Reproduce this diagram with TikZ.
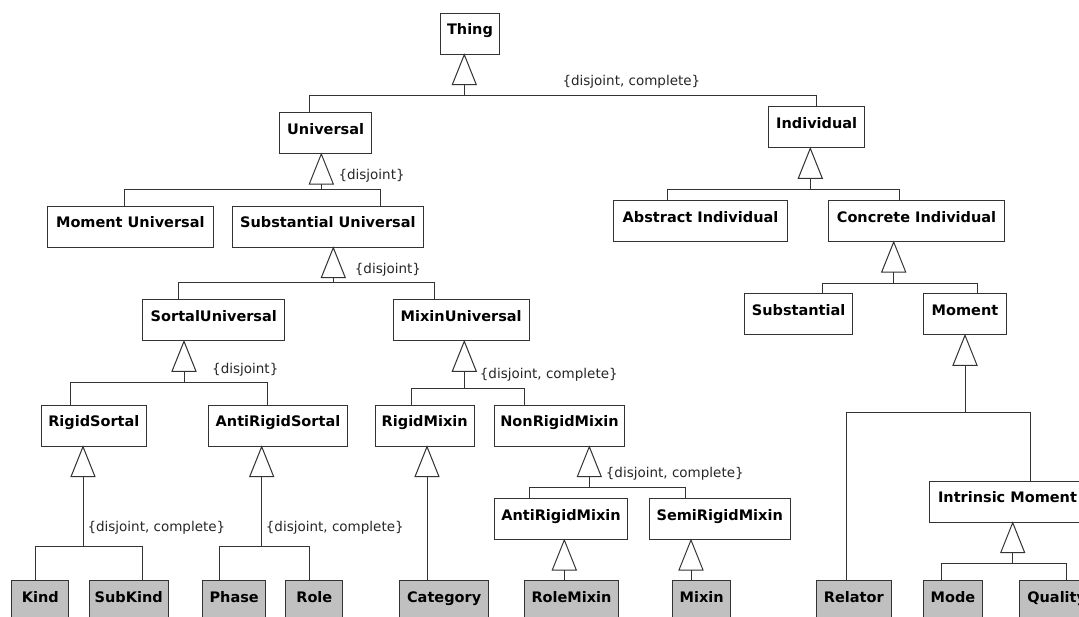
\documentclass[tikz,border=0pt]{standalone}
\usepackage{fontspec}
\setmainfont{DejaVu Sans}
\usepackage{tikz}
\usetikzlibrary{calc,positioning}

\definecolor{lineGray}{HTML}{333333}
\definecolor{leafGray}{HTML}{C0C0C0}

% generalization: parent, tip offset, bus depth, junction name
\newcommand{\drawGen}[4]{
    \coordinate (#4) at ([xshift=#2pt,yshift=-#3pt]#1.south west);
    \draw[gen] ([xshift=#2pt]#1.south west) -- ++(-12,30) -- ++(24,0) -- cycle;
    \draw[link] ([xshift=#2pt,yshift=-30pt]#1.south west) -- (#4);
}

\begin{document}
\begin{tikzpicture}[x=1pt,y=-1pt,
    cls/.style={draw=lineGray,line width=1pt,fill=white,rectangle,anchor=north west,
        inner xsep=0pt,inner ysep=0pt,text height=21.5pt,text depth=19.5pt,
        font=\fontsize{14.5}{17}\selectfont\bfseries,text=black},
    leaf/.style={cls,fill=leafGray},
    link/.style={draw=lineGray,line width=1pt},
    gen/.style={link,fill=white,line join=miter},
    note/.style={anchor=west,inner sep=0pt,font=\fontsize{13.5}{16}\selectfont,text=black!85}]

    \useasboundingbox (0,0) rectangle (1079,616);
    \clip (0,0) rectangle (1079,616);

    % --- Classes ---
    \node[cls,minimum width=58.4pt] (thing) at (440.3,12.7) {Thing};
    \node[cls,minimum width=91.7pt] (universal) at (279.3,112) {Universal};
    \node[cls,minimum width=95.7pt] (individual) at (768.3,106.3) {Individual};
    \node[cls,minimum width=165.7pt] (momentUni) at (47,205.7) {Moment Universal};
    \node[cls,minimum width=190.7pt] (substUni) at (232,205.7) {Substantial Universal};
    \node[cls,minimum width=173.4pt] (abstractInd) at (613.3,200) {Abstract Individual};
    \node[cls,minimum width=176pt] (concreteInd) at (828,200) {Concrete Individual};
    \node[cls,minimum width=142pt] (sortalUni) at (142.3,299.3) {SortalUniversal};
    \node[cls,minimum width=136pt] (mixinUni) at (392.7,299.3) {MixinUniversal};
    \node[cls,minimum width=107.7pt] (substantial) at (744.3,293.3) {Substantial};
    \node[cls,minimum width=82.4pt] (moment) at (923.3,293.3) {Moment};
    \node[cls,minimum width=104.7pt] (rigidSortal) at (41,404.7) {RigidSortal};
    \node[cls,minimum width=139pt] (antiRigidSortal) at (208,404.7) {AntiRigidSortal};
    \node[cls,minimum width=99pt] (rigidMixin) at (374.7,404.7) {RigidMixin};
    \node[cls,minimum width=130pt] (nonRigidMixin) at (494,404.7) {NonRigidMixin};
    \node[cls,minimum width=133pt] (antiRigidMixin) at (494,498) {AntiRigidMixin};
    \node[cls,minimum width=141pt] (semiRigidMixin) at (648.7,498) {SemiRigidMixin};
    \node[cls,minimum width=156pt] (intrinsicMoment) at (929,480.7) {Intrinsic Moment};

    % Leaf classes
    \node[leaf,minimum width=57pt] (kind) at (11.3,580) {Kind};
    \node[leaf,minimum width=79pt] (subKind) at (88.7,580) {SubKind};
    \node[leaf,minimum width=62.7pt] (phase) at (202.3,580) {Phase};
    \node[leaf,minimum width=57pt] (role) at (285.3,580) {Role};
    \node[leaf,minimum width=89.3pt] (category) at (399,580) {Category};
    \node[leaf,minimum width=94.6pt] (roleMixin) at (523.7,580) {RoleMixin};
    \node[leaf,minimum width=57.7pt] (mixin) at (672.3,580) {Mixin};
    \node[leaf,minimum width=74.7pt] (relator) at (816,580) {Relator};
    \node[leaf,minimum width=58.4pt] (mode) at (923.3,580) {Mode};
    \node[leaf,minimum width=75pt] (quality) at (1018.7,580) {Quality};

    % --- Generalizations ---
    \drawGen{thing}{24}{41}{gThing}
    \draw[link] (gThing) -| ([xshift=30pt]universal.north west);
    \draw[link] (gThing) -| ([xshift=48pt]individual.north west);

    \drawGen{universal}{42}{35}{gUniversal}
    \draw[link] (gUniversal) -| ([xshift=77.7pt]momentUni.north west);
    \draw[link] (gUniversal) -| ([xshift=148.9pt]substUni.north west);

    \drawGen{individual}{42}{41}{gIndividual}
    \draw[link] (gIndividual) -| ([xshift=53.7pt]abstractInd.north west);
    \draw[link] (gIndividual) -| ([xshift=71.7pt]concreteInd.north west);

    \drawGen{substUni}{101.3}{35}{gSubstUni}
    \draw[link] (gSubstUni) -| ([xshift=36pt]sortalUni.north west);
    \draw[link] (gSubstUni) -| ([xshift=41.3pt]mixinUni.north west);

    \drawGen{concreteInd}{65.7}{41}{gConcreteInd}
    \draw[link] (gConcreteInd) -| ([xshift=77.7pt]substantial.north west);
    \draw[link] (gConcreteInd) -| ([xshift=53.7pt]moment.north west);

    \drawGen{sortalUni}{41.7}{41}{gSortalUni}
    \draw[link] (gSortalUni) -| ([xshift=29.7pt]rigidSortal.north west);
    \draw[link] (gSortalUni) -| ([xshift=59.3pt]antiRigidSortal.north west);

    \drawGen{mixinUni}{71.6}{46.7}{gMixinUni}
    \draw[link] (gMixinUni) -| ([xshift=36.3pt]rigidMixin.north west);
    \draw[link] (gMixinUni) -| ([xshift=30pt]nonRigidMixin.north west);

    \drawGen{moment}{41.7}{76.7}{gMoment}
    \draw[link] (gMoment) -| ([xshift=30pt]relator.north west);
    \draw[link] (gMoment) -| ([xshift=101.7pt]intrinsicMoment.north west);

    \drawGen{rigidSortal}{42}{99.7}{gRigidSortal}
    \draw[link] (gRigidSortal) -| ([xshift=24pt]kind.north west);
    \draw[link] (gRigidSortal) -| ([xshift=54pt]subKind.north west);

    \drawGen{antiRigidSortal}{53.7}{99.7}{gAntiRigidSortal}
    \draw[link] (gAntiRigidSortal) -| ([xshift=17.4pt]phase.north west);
    \draw[link] (gAntiRigidSortal) -| ([xshift=24pt]role.north west);

    \drawGen{rigidMixin}{52.3}{134.7}{gRigidMixin}
    \draw[link] (gRigidMixin) -| ([xshift=28pt]category.north west);

    \drawGen{nonRigidMixin}{95.3}{41}{gNonRigidMixin}
    \draw[link] (gNonRigidMixin) -| ([xshift=35.7pt]antiRigidMixin.north west);
    \draw[link] (gNonRigidMixin) -| ([xshift=36.3pt]semiRigidMixin.north west);

    \drawGen{antiRigidMixin}{70.3}{41}{gAntiRigidMixin}
    \draw[link] (gAntiRigidMixin) -| ([xshift=40.6pt]roleMixin.north west);

    \drawGen{semiRigidMixin}{42.3}{41}{gSemiRigidMixin}
    \draw[link] (gSemiRigidMixin) -| ([xshift=18.7pt]mixin.north west);

    \drawGen{intrinsicMoment}{83.7}{41}{gIntrinsicMoment}
    \draw[link] (gIntrinsicMoment) -| ([xshift=17.7pt]mode.north west);
    \draw[link] (gIntrinsicMoment) -| ([xshift=47.6pt]quality.north west);

    % Constraint labels
    \node[note] (lThing) at (562.3,81.7) {\{disjoint, complete\}};
    \node[note] (lUniversal) at (338.3,176) {\{disjoint\}};
    \node[note] (lSubstUni) at (354.7,269.3) {\{disjoint\}};
    \node[note] (lSortalUni) at (212,369.7) {\{disjoint\}};
    \node[note] (lMixinUni) at (479.7,374.7) {\{disjoint, complete\}};
    \node[note] (lNonRigidMixin) at (605.7,473.7) {\{disjoint, complete\}};
    \node[note] (lRigidSortal) at (87.3,527.3) {\{disjoint, complete\}};
    \node[note] (lAntiRigidSortal) at (265.7,527.3) {\{disjoint, complete\}};

\end{tikzpicture}
\end{document}
